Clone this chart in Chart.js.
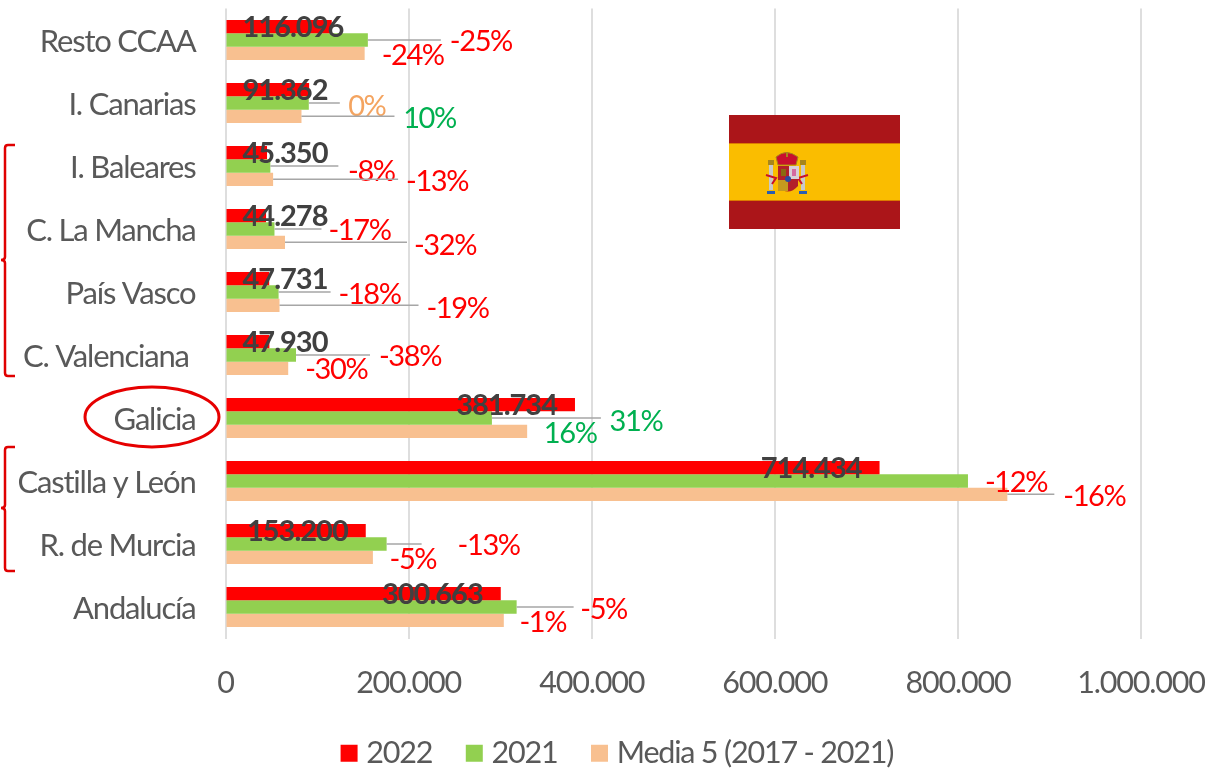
<!DOCTYPE html>
<html>
<head>
<meta charset="utf-8">
<script src="https://cdn.jsdelivr.net/npm/chart.js@4"></script>
<style>
    html, body { margin: 0; padding: 0; background: #fff; }
    #wrap { position: relative; width: 1211px; height: 771px; overflow: hidden; }
    #chart { position: absolute; left: 0; top: 0; }
    #marks { position: absolute; left: 0; top: 0; pointer-events: none; }
</style>
</head>
<body>
<div id="wrap">
    <canvas id="chart" width="1211" height="771"></canvas>
    <!-- hand drawn marks on top of the chart: flag, brackets, circle round Galicia -->
    <svg id="marks" width="1211" height="771" viewBox="0 0 1211 771">
        <rect x="729" y="115" width="171" height="114" fill="#ab1519"/>
        <rect x="729" y="143" width="171" height="58" fill="#fabd00"/>
        <rect x="729" y="143" width="171" height="1" fill="#dc7a00"/>
        <rect x="729" y="200" width="171" height="1" fill="#dc7a00"/>
        <g>
            <rect x="769" y="165" width="4" height="25" fill="#c9c9c9"/>
            <rect x="801" y="165" width="4" height="25" fill="#c9c9c9"/>
            <rect x="768" y="160" width="6" height="5" fill="#a8861a"/>
            <rect x="800" y="160" width="6" height="5" fill="#a8861a"/>
            <rect x="767" y="191" width="8" height="3" fill="#2a5db0"/>
            <rect x="799" y="191" width="8" height="3" fill="#2a5db0"/>
            <path d="M766 175 L776 178 L772 184 M808 175 L798 178 L802 184" stroke="#c8102e" stroke-width="2" fill="none"/>
            <path d="M776 157 Q786 148 798 157 L796 165 L778 165 Z" fill="#c8102e" stroke="#a8861a"/>
            <rect x="786" y="152" width="2" height="5" fill="#a8861a"/>
            <path d="M778 166 H798 V186 Q788 197 778 186 Z" fill="#b3202a"/>
            <rect x="789" y="166" width="10" height="13" fill="#d8d0d8"/>
            <rect x="792" y="169" width="4" height="7" fill="#d46aa0"/>
            <rect x="778" y="180" width="10" height="11" fill="#c59a1e"/>
            <rect x="781" y="169" width="5" height="7" fill="#8a6a10"/>
            <circle cx="788" cy="179" r="3" fill="#2a4aa0"/>
        </g>
        <ellipse cx="152" cy="417" rx="67" ry="30" fill="none" stroke="#e60000" stroke-width="3"/>
        <path d="M15 145 H8 Q5 145 5 148 V257 Q5 260 1 260 Q5 260 5 263 V373 Q5 376 8 376 H15" fill="none" stroke="#e00000" stroke-width="2.5"/>
        <path d="M15 447 H8 Q5 447 5 450 V505 Q5 508 1 508 Q5 508 5 511 V568 Q5 571 8 571 H15" fill="none" stroke="#e00000" stroke-width="2.5"/>
    </svg>
</div>

<script>
// --- 1. Data ---
const categories = ['Resto CCAA', 'I. Canarias', 'I. Baleares', 'C. La Mancha', 'País Vasco',
    'C. Valenciana ', 'Galicia', 'Castilla y León', 'R. de Murcia', 'Andalucía'];
const values2022 = [116096, 91362, 45350, 44278, 47731, 47930, 381734, 714434, 153200, 300663];
const values2021 = [155500, 91000, 49000, 53500, 58000, 77000, 291000, 811000, 176000, 318000];
const valuesMedia = [152000, 83000, 52000, 65000, 59000, 68500, 329500, 854000, 161000, 304000];
const valueLabels = ['116.096', '91.362', '45.350', '44.278', '47.731', '47.930', '381.734', '714.434', '153.200', '300.663'];
const pct2021 = ['-25%', '0%', '-8%', '-17%', '-18%', '-38%', '31%', '-12%', '-13%', '-5%'];
const pctMedia = ['-24%', '10%', '-13%', '-32%', '-19%', '-30%', '16%', '-16%', '-5%', '-1%'];
const tickValues = [0, 200000, 400000, 600000, 800000, 1000000];
const tickLabels = ['0', '200.000', '400.000', '600.000', '800.000', '1.000.000'];

// --- 2. Where the % labels were dragged to, relative to the end of their bar ---
// [label dx, label dy, leader line length]
const place2021 = [[113, 2, 73], [58, 4, 31], [101, 6, 68], [85, 2, 47], [91, 3, 52],
    [114, 2, 74], [144, 4, 109], [48, 2, 0], [102, 2, 35], [87, 3, 57]];
const placeMedia = [[48, 2, 0], [128, 2, 93], [164, 2, 125], [160, 3, 122], [178, 3, 139],
    [48, 1, 0], [43, 2, 0], [87, 2, 47], [40, 2, 0], [39, 2, 0]];

const FONT = 'Lato, "Open Sans", sans-serif';
const GREY = '#595959';

function pctColor(text) {
    if (text === '0%') return '#f4a460';
    return text.startsWith('-') ? '#ff0000' : '#00b050';
}

// --- 3. Value labels, leader lines and % labels ---
const labelPlugin = {
    id: 'barLabels',
    afterDatasetsDraw(chart) {
        const ctx = chart.ctx;
        const drawPct = (meta, texts, place) => {
            meta.data.forEach((bar, i) => {
                const [dx, dy, len] = place[i];
                if (len > 0) {
                    ctx.strokeStyle = '#a6a6a6';
                    ctx.lineWidth = 1.5;
                    ctx.beginPath();
                    ctx.moveTo(bar.x, bar.y);
                    ctx.lineTo(bar.x + len, bar.y);
                    ctx.stroke();
                }
                ctx.font = '29px ' + FONT;
                ctx.letterSpacing = '-1.4px';
                ctx.fillStyle = pctColor(texts[i]);
                ctx.textAlign = 'center';
                ctx.textBaseline = 'middle';
                ctx.fillText(texts[i], bar.x + dx, bar.y + dy);
            });
        };
        ctx.save();
        drawPct(chart.getDatasetMeta(1), pct2021, place2021);
        drawPct(chart.getDatasetMeta(2), pctMedia, placeMedia);

        // 2022 values sit inside the end of the bar, but never left of the first stretch
        ctx.font = 'bold 29px ' + FONT;
        ctx.letterSpacing = '-1px';
        ctx.fillStyle = '#404040';
        ctx.textAlign = 'left';
        ctx.textBaseline = 'middle';
        chart.getDatasetMeta(0).data.forEach((bar, i) => {
            const w = ctx.measureText(valueLabels[i]).width;
            const left = Math.max(bar.x - 18 - w, chart.chartArea.left + 17);
            ctx.fillText(valueLabels[i], left, bar.y + 1);
        });
        ctx.restore();
    }
};

// legend sits lower and further right than Chart.js would centre it
const legendShift = {
    id: 'legendShift',
    afterLayout(chart) {
        chart.legend.left += 67;
        chart.legend.right += 67;
        chart.legend.top -= 26;
    }
};

// --- 4. Create the Chart ---
new Chart(document.getElementById('chart'), {
    type: 'bar',
    data: {
        labels: categories,
        datasets: [
            { label: '2022', data: values2022, backgroundColor: '#ff0000' },
            { label: '2021', data: values2021, backgroundColor: '#92d050' },
            { label: 'Media 5 (2017 - 2021)', data: valuesMedia, backgroundColor: '#f8c090' }
        ]
    },
    options: {
        indexAxis: 'y',
        responsive: false,
        animation: false,
        categoryPercentage: 0.635,
        barPercentage: 1,
        layout: { padding: { top: 8.5, right: 70, bottom: 0, left: 0 } },
        scales: {
            x: {
                min: 0,
                max: 1000000,
                afterBuildTicks(axis) { axis.ticks = tickValues.map(v => ({ value: v })); },
                afterFit(axis) {
                    axis.height = 85.5;
                    axis.paddingLeft = 0;
                    axis.paddingRight = 0;
                },
                border: { display: false },
                grid: { color: '#dedede', lineWidth: 2, drawTicks: false },
                ticks: {
                    color: GREY,
                    padding: 26,
                    maxRotation: 0,
                    font: { family: FONT, size: 30.5 },
                    callback: (v, i) => tickLabels[i]
                }
            },
            y: {
                afterFit(axis) {
                    axis.width = 225.5;
                    axis.paddingTop = 0;
                    axis.paddingBottom = 0;
                },
                border: { display: false },
                grid: { display: false },
                ticks: {
                    color: GREY,
                    padding: 22,
                    labelOffset: 2,
                    font: { family: FONT, size: 31 }
                }
            }
        },
        plugins: {
            legend: {
                position: 'bottom',
                maxHeight: 47,
                labels: {
                    color: GREY,
                    usePointStyle: true,
                    pointStyle: 'rect',
                    boxWidth: 4,
                    boxHeight: 17,
                    padding: 40,
                    font: { family: FONT, size: 30.5 }
                }
            },
            tooltip: { enabled: false }
        }
    },
    plugins: [
        { id: 'narrowText', beforeDraw(chart) { chart.ctx.letterSpacing = '-1.2px'; } },
        legendShift,
        labelPlugin
    ]
});
</script>
</body>
</html>
